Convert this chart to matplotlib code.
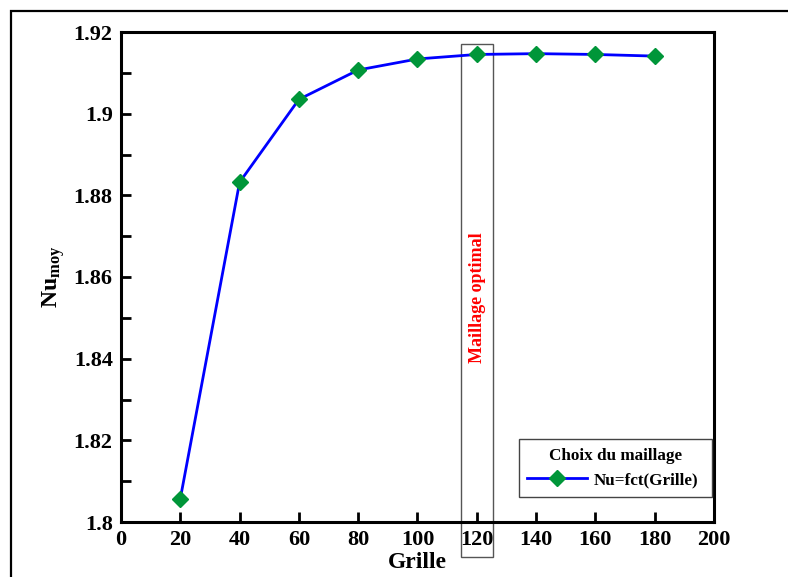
import matplotlib
matplotlib.use("Agg")
import matplotlib.pyplot as plt
from matplotlib.patches import Rectangle
from matplotlib.ticker import MultipleLocator

grille = [20, 40, 60, 80, 100, 120, 140, 160, 180]
nu_moy = [1.8057, 1.8832, 1.9035, 1.9107, 1.9134, 1.9145, 1.9147, 1.9145, 1.9141]
x_ticks = [0, 20, 40, 60, 80, 100, 120, 140, 160, 180, 200]
y_ticks = [1.8, 1.82, 1.84, 1.86, 1.88, 1.9, 1.92]
y_tick_labels = ["1.8", "1.82", "1.84", "1.86", "1.88", "1.9", "1.92"]

plt.rcParams['font.family'] = ['Liberation Serif', 'DejaVu Serif']
plt.rcParams['font.weight'] = 'bold'
plt.rcParams['mathtext.fontset'] = 'custom'
plt.rcParams['mathtext.rm'] = 'Liberation Serif:bold'
plt.rcParams['mathtext.it'] = 'Liberation Serif:bold'
plt.rcParams['mathtext.bf'] = 'Liberation Serif:bold'

fig = plt.figure(figsize=(7.88, 5.77), dpi=100)
ax = fig.add_axes([121/788, 1-522/577, (714-121)/788, (522-32)/577])

# outer frame
fig.patches.append(Rectangle((11/788, -0.2), 1.2, 1.2 - 11/577, transform=fig.transFigure,
                             fill=False, edgecolor='black', linewidth=1.6, zorder=0))

ax.plot(grille, nu_moy, color='#0000ff', linewidth=2.0, marker='D', markersize=8.5,
        markerfacecolor='#009639', markeredgecolor='#009639', label='Nu=fct(Grille)', zorder=3)

ax.set_xlim(0, 200)
ax.set_ylim(1.8, 1.92)
ax.set_xticks(x_ticks)
ax.set_xticklabels([str(v) for v in x_ticks])
ax.set_yticks(y_ticks)
ax.set_yticklabels(y_tick_labels)
ax.yaxis.set_minor_locator(MultipleLocator(0.01))

for s in ax.spines.values():
    s.set_linewidth(2.2)
ax.tick_params(axis='both', which='both', direction='in', width=2.0, labelsize=16)
ax.tick_params(axis='y', which='both', length=7, right=False, pad=6)
ax.tick_params(axis='x', which='major', length=7, top=False, pad=6)
ax.tick_params(axis='x', which='minor', bottom=False)

ax.set_xlabel('Grille', fontsize=17, fontweight='bold', labelpad=1)
ax.set_ylabel(r'Nu$_{\mathrm{moy}}$', fontsize=17, fontweight='bold')
ax.yaxis.set_label_coords(-0.091, 0.5)

# optimal mesh box
ax.add_patch(Rectangle((114.7, 1.7914), 10.8, 1.917 - 1.7914, fill=False,
                       edgecolor='#555555', linewidth=1.0, clip_on=False, zorder=2))
ax.text(120.4, 1.855, 'Maillage optimal', rotation=90, color='red', fontsize=13,
        fontweight='bold', ha='center', va='center')

leg = ax.legend(loc='lower left', bbox_to_anchor=(0.671, 0.051, 0.326, 0.122), mode='expand',
                borderaxespad=0, title='Choix du maillage', fontsize=12.3,
                title_fontproperties={'weight': 'bold', 'size': 12.3},
                handlelength=3.5, handletextpad=0.4, fancybox=False, framealpha=1,
                edgecolor='#444444', borderpad=0.5)
leg.get_frame().set_linewidth(1.0)

fig.savefig('out.png', dpi=100)
